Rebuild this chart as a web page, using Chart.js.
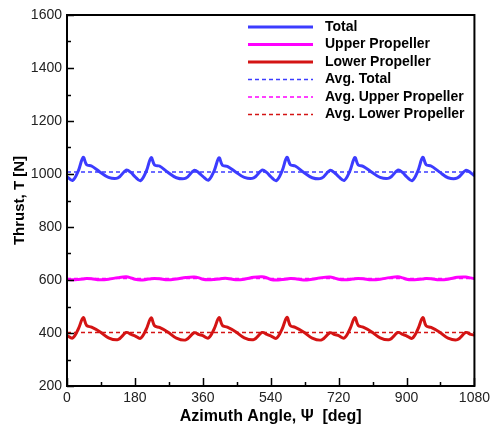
<!DOCTYPE html>
<html>
<head>
<meta charset="utf-8">
<script src="https://cdn.jsdelivr.net/npm/chart.js@4/dist/chart.umd.min.js"></script>
<style>
html, body { margin: 0; padding: 0; background: #fff; }
</style>
</head>
<body>
<canvas id="thrustChart" width="494" height="427"></canvas>
<script>
// azimuth angle [deg]
const azimuth = [
    0, 15, 30, 43, 52, 65, 87, 110, 135, 157, 170,
    180, 195, 210, 223, 232, 245, 267, 290, 315, 337, 350,
    360, 375, 390, 403, 412, 425, 447, 470, 495, 517, 530,
    540, 555, 570, 583, 592, 605, 627, 650, 675, 697, 710,
    720, 735, 750, 763, 772, 785, 807, 830, 855, 877, 890,
    900, 915, 930, 943, 952, 965, 987, 1010, 1035, 1057, 1070,
    1080
];

// thrust [N]
const totalThrust = [
    990, 976, 1012, 1063, 1035, 1030, 1008, 987, 985, 1015, 1005,
    990, 975, 1010, 1062, 1034, 1030, 1007, 986, 984, 1014, 1004,
    991, 977, 1012, 1061, 1033, 1029, 1008, 987, 985, 1015, 1005,
    990, 975, 1011, 1063, 1035, 1030, 1007, 986, 984, 1014, 1004,
    990, 976, 1012, 1062, 1034, 1029, 1008, 987, 985, 1015, 1005,
    990, 975, 1011, 1063, 1035, 1030, 1008, 986, 985, 1014, 1005,
    993
];

const upperThrust = [
    603, 601, 602, 604, 606, 605, 601, 603, 609, 612, 608,
    603, 600, 602, 605, 606, 605, 601, 604, 609, 611, 608,
    603, 601, 602, 604, 606, 606, 601, 603, 610, 612, 608,
    602, 600, 602, 604, 606, 605, 600, 603, 609, 611, 607,
    603, 601, 602, 605, 606, 605, 601, 603, 609, 612, 608,
    603, 601, 602, 604, 606, 605, 601, 603, 610, 611, 608,
    605
];

const lowerThrust = [
    390, 381, 415, 458, 428, 422, 405, 382, 375, 402, 395,
    389, 380, 414, 457, 427, 421, 404, 381, 374, 401, 394,
    390, 381, 415, 458, 428, 422, 405, 382, 375, 402, 395,
    389, 380, 414, 459, 428, 421, 404, 381, 374, 401, 394,
    390, 381, 415, 458, 428, 422, 405, 382, 375, 402, 395,
    389, 380, 414, 458, 427, 421, 404, 381, 375, 402, 395,
    392
];

const avgAngles = [0, 1080];
const avgTotal = [1008, 1008];
const avgUpper = [606, 606];
const avgLower = [402, 402];

const xTicks = [0, 180, 360, 540, 720, 900, 1080];
const yTicks = [200, 400, 600, 800, 1000, 1200, 1400, 1600];

const BLUE = '#3c3cff';
const MAGENTA = '#ff00ff';
const RED = '#d41414';
const FONT = "'Liberation Sans', Arial, sans-serif";

function toPoints(xs, ys) {
    return xs.map((x, i) => ({ x: x, y: ys[i] }));
}

function solid(label, ys, color) {
    return {
        label: label,
        data: toPoints(azimuth, ys),
        borderColor: color,
        borderWidth: 3,
        pointRadius: 0,
        tension: 0.35,
        fill: false
    };
}

function dashed(label, ys, color) {
    return {
        label: label,
        data: toPoints(avgAngles, ys),
        borderColor: color,
        borderWidth: 1.5,
        borderDash: [4, 3],
        pointRadius: 0,
        fill: false
    };
}

// box, inward ticks and the legend inside the plot
const frameAndLegend = {
    id: 'frameAndLegend',
    afterDatasetsDraw(chart) {
        const { ctx, chartArea: a, scales: { x, y } } = chart;
        ctx.save();
        ctx.strokeStyle = '#000';
        ctx.lineWidth = 1.5;

        ctx.beginPath();
        for (let v = 200; v <= 1600; v += 100) {
            const py = Math.round(y.getPixelForValue(v)) + 0.5;
            const len = (v % 200 === 0) ? 7 : 4;
            ctx.moveTo(a.left, py);
            ctx.lineTo(a.left + len, py);
        }
        for (let v = 0; v <= 1080; v += 90) {
            const px = Math.round(x.getPixelForValue(v)) + 0.5;
            const len = (v % 180 === 0) ? 8 : 4;
            ctx.moveTo(px, a.bottom);
            ctx.lineTo(px, a.bottom - len);
        }
        ctx.stroke();

        ctx.lineWidth = 2;
        ctx.strokeRect(a.left, a.top, a.right - a.left, a.bottom - a.top);

        // legend
        ctx.font = 'bold 14px ' + FONT;
        ctx.textBaseline = 'middle';
        ctx.fillStyle = '#000';
        chart.data.datasets.forEach((ds, i) => {
            const ly = a.top + 12 + i * 17.5;
            ctx.beginPath();
            ctx.strokeStyle = ds.borderColor;
            ctx.lineWidth = ds.borderWidth;
            ctx.setLineDash(ds.borderDash || []);
            ctx.moveTo(248, ly);
            ctx.lineTo(313, ly);
            ctx.stroke();
            ctx.setLineDash([]);
            ctx.fillText(ds.label, 325, ly);
        });
        ctx.restore();
    }
};

const ctx = document.getElementById('thrustChart').getContext('2d');
new Chart(ctx, {
    type: 'line',
    data: {
        datasets: [
            solid('Total', totalThrust, BLUE),
            solid('Upper Propeller', upperThrust, MAGENTA),
            solid('Lower Propeller', lowerThrust, RED),
            dashed('Avg. Total', avgTotal, BLUE),
            dashed('Avg. Upper Propeller', avgUpper, MAGENTA),
            dashed('Avg. Lower Propeller', avgLower, RED)
        ]
    },
    options: {
        responsive: false,
        animation: false,
        layout: { padding: { top: 15, right: 17, left: 0, bottom: 0 } },
        plugins: {
            legend: { display: false },
            tooltip: { enabled: false }
        },
        scales: {
            x: {
                type: 'linear',
                min: 0,
                max: 1080,
                afterBuildTicks(s) { s.ticks = xTicks.map(v => ({ value: v })); },
                afterFit(s) { s.height = 41; },
                grid: { display: false, drawTicks: false },
                border: { display: false },
                ticks: {
                    padding: 4,
                    maxRotation: 0,
                    autoSkip: false,
                    color: '#222',
                    font: { family: FONT, size: 14 },
                    callback: v => String(v)
                },
                title: {
                    display: true,
                    text: 'Azimuth Angle, Ψ  [deg]',
                    color: '#000',
                    font: { family: FONT, size: 16, weight: 'bold' },
                    padding: { top: 0, bottom: 1 }
                }
            },
            y: {
                min: 200,
                max: 1600,
                afterBuildTicks(s) { s.ticks = yTicks.map(v => ({ value: v })); },
                afterFit(s) { s.width = 67; },
                grid: { display: false, drawTicks: false },
                border: { display: false },
                ticks: {
                    padding: 5,
                    color: '#222',
                    font: { family: FONT, size: 14 },
                    callback: v => String(v)
                },
                title: {
                    display: true,
                    text: 'Thrust, T [N]',
                    color: '#000',
                    font: { family: FONT, size: 15, weight: 'bold' },
                    padding: { top: 11, bottom: 0 }
                }
            }
        }
    },
    plugins: [frameAndLegend]
});
</script>
</body>
</html>
